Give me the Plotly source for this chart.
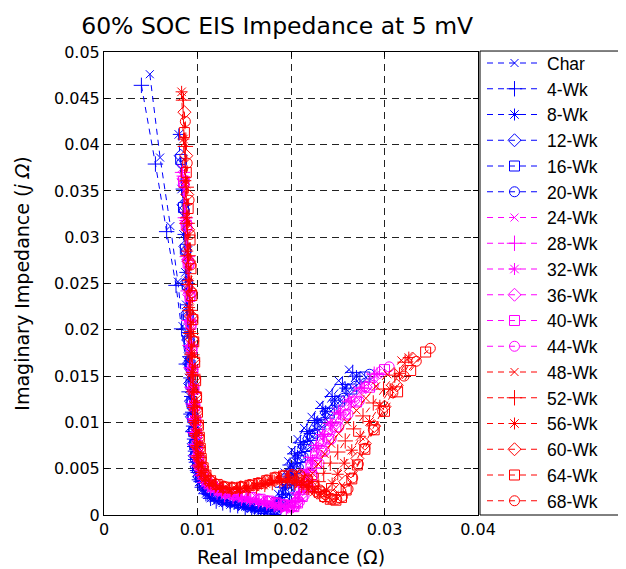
import plotly.graph_objects as go

# ---------------- data ----------------
SERIES_NAMES = ["Char", "4-Wk", "8-Wk", "12-Wk", "16-Wk", "20-Wk",
                "24-Wk", "28-Wk", "32-Wk", "36-Wk", "40-Wk", "44-Wk",
                "48-Wk", "52-Wk", "56-Wk", "60-Wk", "64-Wk", "68-Wk"]

X_CHAR = [0.0049,0.0060,0.0071,0.0079,0.0084,0.0089,0.0091,0.0093,0.0095,0.0096,0.0098,0.0100,0.0102,0.0105,0.0109,0.0114,0.0120,0.0127,0.0135,0.0143,0.0151,0.0158,0.0165,0.0171,0.0177,0.0182,0.0186,0.0190,0.0193,0.0197,0.0201,0.0207,0.0214,0.0222,0.0231,0.0241,0.0251,0.0262]
Y_CHAR = [0.0476,0.0386,0.0312,0.0252,0.0204,0.0166,0.0136,0.0112,0.0092,0.0075,0.0061,0.0049,0.0039,0.0030,0.0023,0.0018,0.0015,0.0013,0.0011,0.0010,0.0009,0.0007,0.0006,0.0005,0.0008,0.0014,0.0023,0.0034,0.0046,0.0058,0.0070,0.0082,0.0094,0.0106,0.0119,0.0132,0.0145,0.0157]

X_04 = [0.0040,0.0055,0.0067,0.0077,0.0083,0.0088,0.0091,0.0093,0.0095,0.0097,0.0098,0.0100,0.0102,0.0105,0.0109,0.0114,0.0120,0.0127,0.0135,0.0143,0.0151,0.0158,0.0165,0.0172,0.0178,0.0183,0.0187,0.0191,0.0195,0.0199,0.0204,0.0210,0.0217,0.0225,0.0234,0.0244,0.0255,0.0266]
Y_04 = [0.0464,0.0379,0.0306,0.0248,0.0201,0.0163,0.0133,0.0109,0.0090,0.0074,0.0060,0.0048,0.0038,0.0030,0.0023,0.0018,0.0015,0.0013,0.0011,0.0010,0.0008,0.0007,0.0005,0.0004,0.0006,0.0011,0.0019,0.0030,0.0042,0.0054,0.0066,0.0078,0.0090,0.0102,0.0115,0.0128,0.0141,0.0154]

X_08 = [0.0080,0.0083,0.0085,0.0087,0.0088,0.0089,0.0090,0.0091,0.0092,0.0093,0.0094,0.0095,0.0096,0.0097,0.0099,0.0102,0.0106,0.0111,0.0118,0.0126,0.0135,0.0144,0.0153,0.0161,0.0168,0.0175,0.0181,0.0186,0.0190,0.0194,0.0198,0.0202,0.0207,0.0213,0.0220,0.0228,0.0237,0.0247,0.0258,0.0270]
Y_08 = [0.0411,0.0352,0.0303,0.0262,0.0227,0.0197,0.0171,0.0148,0.0128,0.0111,0.0096,0.0082,0.0069,0.0057,0.0046,0.0036,0.0028,0.0022,0.0018,0.0015,0.0013,0.0011,0.0009,0.0007,0.0005,0.0004,0.0006,0.0011,0.0019,0.0029,0.0040,0.0052,0.0064,0.0076,0.0088,0.0100,0.0112,0.0124,0.0137,0.0150]

X_12 = [0.0082,0.0085,0.0087,0.0088,0.0089,0.0090,0.0091,0.0092,0.0093,0.0094,0.0095,0.0096,0.0097,0.0099,0.0102,0.0106,0.0111,0.0118,0.0126,0.0135,0.0144,0.0153,0.0161,0.0169,0.0176,0.0182,0.0187,0.0191,0.0195,0.0199,0.0203,0.0208,0.0214,0.0221,0.0229,0.0238,0.0249,0.0261,0.0274]
Y_12 = [0.0388,0.0335,0.0290,0.0251,0.0218,0.0189,0.0164,0.0142,0.0123,0.0106,0.0091,0.0077,0.0064,0.0052,0.0041,0.0032,0.0025,0.0020,0.0016,0.0014,0.0012,0.0010,0.0008,0.0006,0.0005,0.0006,0.0010,0.0017,0.0027,0.0038,0.0050,0.0062,0.0074,0.0086,0.0098,0.0110,0.0122,0.0135,0.0148]

X_16 = [0.0082,0.0085,0.0087,0.0089,0.0090,0.0091,0.0092,0.0093,0.0094,0.0095,0.0096,0.0097,0.0098,0.0100,0.0103,0.0107,0.0112,0.0119,0.0127,0.0136,0.0145,0.0154,0.0162,0.0170,0.0177,0.0184,0.0189,0.0193,0.0197,0.0201,0.0205,0.0210,0.0216,0.0223,0.0231,0.0241,0.0252,0.0265,0.0279]
Y_16 = [0.0384,0.0332,0.0287,0.0249,0.0216,0.0187,0.0162,0.0141,0.0122,0.0105,0.0090,0.0076,0.0063,0.0051,0.0041,0.0032,0.0026,0.0021,0.0017,0.0015,0.0013,0.0011,0.0009,0.0007,0.0005,0.0006,0.0010,0.0017,0.0027,0.0038,0.0050,0.0062,0.0074,0.0086,0.0098,0.0110,0.0123,0.0136,0.0149]

X_20 = [0.0083,0.0086,0.0088,0.0089,0.0090,0.0091,0.0092,0.0093,0.0094,0.0095,0.0096,0.0097,0.0098,0.0100,0.0103,0.0107,0.0112,0.0119,0.0127,0.0136,0.0145,0.0154,0.0163,0.0171,0.0178,0.0185,0.0191,0.0195,0.0199,0.0203,0.0208,0.0213,0.0219,0.0226,0.0234,0.0244,0.0256,0.0269,0.0284]
Y_20 = [0.0380,0.0329,0.0285,0.0247,0.0214,0.0186,0.0161,0.0140,0.0121,0.0104,0.0089,0.0075,0.0063,0.0051,0.0041,0.0033,0.0026,0.0021,0.0018,0.0015,0.0013,0.0011,0.0009,0.0007,0.0006,0.0007,0.0011,0.0018,0.0028,0.0039,0.0051,0.0063,0.0075,0.0088,0.0100,0.0113,0.0126,0.0139,0.0152]

X_24 = [0.0083,0.0086,0.0088,0.0090,0.0091,0.0092,0.0093,0.0094,0.0095,0.0096,0.0097,0.0098,0.0099,0.0101,0.0104,0.0108,0.0114,0.0121,0.0129,0.0138,0.0147,0.0156,0.0165,0.0173,0.0181,0.0188,0.0194,
        0.0199,0.0204,0.0209,0.0214,0.0219,0.0225,0.0232,0.0240,0.0249,0.0259,0.0270,0.0285]
Y_24 = [0.0374,0.0324,0.0281,0.0244,0.0212,0.0184,0.0160,0.0139,0.0120,0.0104,0.0089,0.0076,0.0063,0.0052,0.0042,0.0034,0.0028,0.0024,0.0021,0.0019,0.0017,0.0015,0.0014,0.0012,0.0010,0.0008,0.0007,
        0.0011,0.0020,0.0033,0.0047,0.0061,0.0075,0.0088,0.0100,0.0112,0.0124,0.0136,0.0150]

X_28 = [0.0084,0.0087,0.0089,0.0090,0.0091,0.0092,0.0093,0.0094,0.0095,0.0096,0.0097,0.0098,0.0099,0.0101,0.0104,0.0108,0.0114,0.0121,0.0129,0.0138,0.0147,0.0156,0.0165,0.0174,0.0182,0.0189,0.0195,0.0200,0.0204,0.0208,0.0212,0.0216,0.0221,0.0227,0.0234,0.0242,0.0251,0.0262,0.0275,0.0289]
Y_28 = [0.0370,0.0321,0.0279,0.0242,0.0210,0.0183,0.0159,0.0138,0.0120,0.0104,0.0089,0.0076,0.0064,0.0053,0.0043,0.0035,0.0029,0.0025,0.0022,0.0020,0.0018,0.0017,0.0015,0.0013,0.0011,0.0009,0.0008,0.0009,0.0015,0.0024,0.0036,0.0049,0.0062,0.0075,0.0087,0.0099,0.0111,0.0123,0.0137,0.0152]

X_32 = [0.0084,0.0087,0.0089,0.0091,0.0092,0.0093,0.0094,0.0095,0.0096,0.0097,0.0098,0.0099,0.0100,0.0102,0.0105,0.0109,0.0115,0.0122,0.0130,0.0139,0.0148,0.0157,0.0166,0.0175,0.0183,0.0190,0.0196,0.0201,0.0205,0.0209,0.0213,0.0218,0.0223,0.0229,0.0236,0.0244,0.0253,0.0264,0.0277,0.0292]
Y_32 = [0.0366,0.0318,0.0276,0.0240,0.0209,0.0182,0.0158,0.0137,0.0119,0.0103,0.0088,0.0075,0.0063,0.0052,0.0043,0.0035,0.0030,0.0026,0.0023,0.0021,0.0019,0.0017,0.0015,0.0013,0.0011,0.0009,0.0008,0.0009,0.0014,0.0022,0.0033,0.0046,0.0059,0.0072,0.0085,0.0097,0.0109,0.0122,0.0137,0.0153]

X_36 = [0.0085,0.0088,0.0090,0.0091,0.0092,0.0093,0.0094,0.0095,0.0096,0.0097,0.0098,0.0099,0.0100,0.0102,0.0105,0.0109,0.0115,0.0122,0.0130,0.0139,0.0148,0.0157,0.0166,0.0175,0.0183,0.0191,0.0197,0.0202,0.0206,0.0210,0.0215,0.0220,0.0225,0.0231,0.0238,0.0246,0.0256,0.0267,0.0280,0.0295]
Y_36 = [0.0363,0.0315,0.0274,0.0238,0.0207,0.0180,0.0157,0.0136,0.0118,0.0102,0.0088,0.0075,0.0063,0.0052,0.0043,0.0036,0.0031,0.0027,0.0024,0.0022,0.0020,0.0018,0.0016,0.0014,0.0012,0.0010,0.0009,0.0009,0.0014,0.0021,0.0032,0.0045,0.0058,0.0071,0.0084,0.0097,0.0110,0.0123,0.0138,0.0154]

X_40 = [0.0085,0.0088,0.0090,0.0092,0.0093,0.0094,0.0095,0.0096,0.0097,0.0098,0.0099,0.0100,0.0101,0.0103,0.0106,0.0110,0.0116,0.0123,0.0131,0.0140,0.0149,0.0158,0.0167,0.0176,0.0184,0.0192,0.0198,0.0203,0.0207,0.0212,0.0217,0.0222,0.0227,0.0233,0.0240,0.0248,0.0258,0.0270,0.0284,0.0300]
Y_40 = [0.0360,0.0313,0.0272,0.0236,0.0206,0.0179,0.0156,0.0136,0.0118,0.0102,0.0088,0.0075,0.0063,0.0053,0.0044,0.0037,0.0031,0.0027,0.0024,0.0022,0.0020,0.0019,0.0017,0.0015,0.0013,0.0011,0.0010,0.0009,0.0013,0.0020,0.0030,0.0043,0.0056,0.0069,0.0082,0.0095,0.0108,0.0122,0.0138,0.0157]

X_44 = [0.0086,0.0089,0.0091,0.0092,0.0093,0.0094,0.0095,0.0096,0.0097,0.0098,0.0099,0.0100,0.0101,0.0103,0.0106,0.0110,0.0116,0.0123,0.0131,0.0140,0.0149,0.0158,0.0167,0.0176,0.0185,0.0193,0.0199,0.0205,0.0209,0.0214,0.0219,0.0224,0.0230,0.0236,0.0243,0.0251,0.0261,0.0273,0.0288,0.0305]
Y_44 = [0.0357,0.0310,0.0270,0.0235,0.0205,0.0178,0.0155,0.0135,0.0117,0.0101,0.0087,0.0075,0.0063,0.0053,0.0044,0.0037,0.0032,0.0028,0.0025,0.0023,0.0021,0.0019,0.0017,0.0015,0.0013,0.0011,0.0010,0.0010,0.0014,0.0021,0.0031,0.0043,0.0056,0.0069,0.0082,0.0095,0.0109,0.0123,0.0140,0.0160]

X_48 = [0.0084,0.0086,0.0088,0.0089,0.0090,0.0091,0.0092,0.0093,0.0094,0.0095,0.0096,0.0097,0.0098,0.0099,0.0100,0.0101,
        0.0103,0.0106,0.0111,0.0118,0.0126,0.0135,0.0144,0.0153,0.0162,0.0171,0.0179,0.0187,0.0195,0.0202,0.0208,0.0213,0.0218,0.0223,0.0229,0.0236,0.0243,0.0251,0.0260,0.0270,0.0280,0.0291,0.0303,0.0318]
Y_48 = [0.0452,0.0402,0.0357,0.0318,0.0283,0.0251,0.0223,0.0197,0.0174,0.0153,0.0134,0.0117,0.0101,0.0087,0.0074,0.0063,
        0.0053,0.0044,0.0037,0.0032,0.0028,0.0027,0.0027,0.0028,0.0030,0.0032,0.0034,0.0035,0.0035,0.0034,0.0033,0.0034,0.0038,0.0045,0.0055,0.0066,0.0077,0.0088,0.0100,0.0113,0.0126,0.0139,0.0152,0.0167]

X_52 = [0.0085,0.0087,0.0088,0.0089,0.0090,0.0091,0.0092,0.0093,0.0094,0.0095,0.0096,0.0097,0.0098,0.0099,0.0100,0.0101,
        0.0104,0.0107,0.0112,0.0119,0.0127,0.0136,0.0145,0.0154,0.0163,0.0172,0.0180,0.0188,0.0196,0.0204,0.0211,0.0217,0.0223,0.0229,0.0235,0.0242,0.0250,0.0258,0.0267,0.0277,0.0288,0.0299,0.0311,0.0322]
Y_52 = [0.0448,0.0398,0.0354,0.0315,0.0280,0.0249,0.0221,0.0196,0.0173,0.0152,0.0133,0.0116,0.0100,0.0086,0.0073,0.0062,
        0.0052,0.0043,0.0037,0.0032,0.0029,0.0028,0.0028,0.0029,0.0031,0.0033,0.0035,0.0037,0.0037,0.0035,0.0032,0.0030,0.0031,0.0036,0.0045,0.0056,0.0068,0.0080,0.0093,0.0107,0.0121,0.0136,0.0151,0.0165]

X_56 = [0.0083,0.0085,0.0087,0.0088,0.0089,0.0090,0.0091,0.0092,0.0093,0.0094,0.0095,0.0096,0.0097,0.0098,0.0099,0.0100,0.0101,
        0.0104,0.0108,0.0113,0.0120,0.0128,0.0137,0.0146,0.0155,0.0164,0.0173,0.0182,0.0190,0.0198,0.0206,0.0213,0.0219,0.0225,0.0232,0.0238,0.0244,0.0250,0.0257,0.0265,0.0274,0.0284,0.0295,0.0306,0.0316,0.0326]
Y_56 = [0.0457,0.0406,0.0361,0.0321,0.0285,0.0253,0.0224,0.0198,0.0175,0.0154,0.0135,0.0118,0.0102,0.0088,0.0075,0.0064,0.0054,
        0.0046,0.0039,0.0034,0.0031,0.0029,0.0028,0.0029,0.0030,0.0032,0.0034,0.0037,0.0039,0.0039,0.0037,0.0033,0.0028,0.0025,0.0024,0.0027,0.0034,0.0044,0.0056,0.0070,0.0085,0.0101,0.0118,0.0136,0.0153,0.0170]

X_60 = [0.0086,0.0088,0.0089,0.0090,0.0091,0.0092,0.0093,0.0094,0.0095,0.0096,0.0097,0.0098,0.0099,0.0100,0.0101,0.0102,
        0.0105,0.0108,0.0113,0.0120,0.0128,0.0137,0.0146,0.0155,0.0164,0.0173,0.0182,0.0191,0.0200,0.0208,0.0216,0.0222,0.0228,0.0234,0.0240,0.0246,0.0252,0.0258,0.0264,0.0271,0.0279,0.0289,0.0300,0.0313,0.0330]
Y_60 = [0.0435,0.0388,0.0346,0.0308,0.0274,0.0243,0.0215,0.0190,0.0168,0.0148,0.0130,0.0113,0.0098,0.0085,0.0073,0.0062,
        0.0052,0.0044,0.0038,0.0033,0.0030,0.0029,0.0030,0.0031,0.0033,0.0036,0.0039,0.0041,0.0041,0.0040,0.0036,0.0030,0.0024,0.0020,0.0019,0.0021,0.0027,0.0036,0.0047,0.0061,0.0077,0.0096,0.0117,0.0140,0.0169]

X_64 = [0.0086,0.0088,0.0090,0.0092,0.0093,0.0094,0.0095,0.0096,0.0097,0.0098,0.0099,0.0100,0.0101,0.0102,0.0103,0.0104,
        0.0106,0.0109,0.0114,0.0121,0.0129,0.0138,0.0147,0.0156,0.0165,0.0174,0.0183,0.0192,0.0201,0.0209,0.0217,0.0224,0.0230,0.0236,0.0242,0.0248,0.0254,
        0.0259,0.0265,0.0271,0.0279,0.0289,0.0300,0.0314,0.0328,0.0344]
Y_64 = [0.0413,0.0370,0.0331,0.0297,0.0266,0.0237,0.0211,0.0187,0.0165,0.0145,0.0127,0.0111,0.0097,0.0084,0.0072,0.0061,
        0.0051,0.0043,0.0037,0.0033,0.0030,0.0029,0.0030,0.0032,0.0034,0.0037,0.0040,0.0042,0.0042,0.0041,0.0037,0.0031,0.0025,0.0020,0.0017,0.0016,0.0019,
        0.0027,0.0039,0.0054,0.0071,0.0092,0.0112,0.0133,0.0156,0.0176]

X_68 = [0.0087,0.0089,0.0091,0.0092,0.0093,0.0094,0.0095,0.0096,0.0097,0.0098,0.0099,0.0100,0.0101,0.0102,0.0103,0.0104,
        0.0106,0.0109,0.0114,0.0121,0.0129,0.0138,0.0147,0.0156,0.0165,0.0174,0.0183,0.0192,0.0201,0.0210,0.0218,0.0225,0.0231,0.0237,0.0243,0.0249,0.0255,
        0.0261,0.0266,0.0272,0.0279,0.0288,0.0298,0.0309,0.0321,0.0334,0.0349]
Y_68 = [0.0425,0.0380,0.0340,0.0303,0.0270,0.0240,0.0213,0.0188,0.0166,0.0146,0.0128,0.0112,0.0097,0.0084,0.0072,0.0061,
        0.0051,0.0043,0.0037,0.0033,0.0031,0.0030,0.0031,0.0033,0.0035,0.0038,0.0041,0.0043,0.0044,0.0043,0.0039,0.0033,0.0027,0.0022,0.0018,0.0017,0.0020,
        0.0028,0.0040,0.0055,0.0072,0.0092,0.0112,0.0132,0.0150,0.0166,0.0180]

X_TICKS = [0, 0.01, 0.02, 0.03, 0.04]
X_TICK_LABELS = ["0", "0.01", "0.02", "0.03", "0.04"]
Y_TICKS = [0, 0.005, 0.01, 0.015, 0.02, 0.025, 0.03, 0.035, 0.04, 0.045, 0.05]
Y_TICK_LABELS = ["0", "0.005", "0.01", "0.015", "0.02", "0.025", "0.03", "0.035", "0.04", "0.045", "0.05"]

ALL_X = [X_CHAR, X_04, X_08, X_12, X_16, X_20, X_24, X_28, X_32, X_36, X_40, X_44,
         X_48, X_52, X_56, X_60, X_64, X_68]
ALL_Y = [Y_CHAR, Y_04, Y_08, Y_12, Y_16, Y_20, Y_24, Y_28, Y_32, Y_36, Y_40, Y_44,
         Y_48, Y_52, Y_56, Y_60, Y_64, Y_68]

# ---------------- styles ----------------
GROUP_COLORS = ["#0000FF", "#FF00FF", "#FF0000"]
SYMBOLS = ["x-thin-open", "cross-thin-open", "asterisk-open",
           "diamond-open", "square-open", "circle-open"]
SIZES = [8, 11, 10, 10, 10, 10]

FONT_WIDE = "DejaVu Sans, Verdana, sans-serif"
FONT_LEG = "Liberation Sans, Arial, Helvetica, sans-serif"

fig = go.Figure()
for i, (name, xs, ys) in enumerate(zip(SERIES_NAMES, ALL_X, ALL_Y)):
    color = GROUP_COLORS[i // 6]
    fig.add_trace(go.Scatter(
        x=xs, y=ys, name=name, mode="lines+markers",
        line=dict(color=color, width=1, dash="6px,5px"),
        marker=dict(symbol=SYMBOLS[i % 6], size=SIZES[i % 6], color=color,
                    line=dict(color=color, width=1)),
    ))

L, R, T, B = 96, 156, 44, 53
W, H = 626, 569
pw, ph = W - L - R, H - T - B

def px_x(p):
    return (p - L) / pw

def px_y(p):
    return (H - B - p) / ph

axis_common = dict(
    showline=True, linecolor="black", linewidth=1, mirror="allticks",
    ticks="inside", ticklen=5, tickcolor="black", tickwidth=1,
    showgrid=True, gridcolor="#222222", gridwidth=1, griddash="7px,5px",
    zeroline=False, tickfont=dict(family=FONT_WIDE, size=16, color="black"),
)

fig.update_layout(
    width=W, height=H,
    margin=dict(l=L, r=R, t=T, b=B),
    paper_bgcolor="white", plot_bgcolor="white",
    font=dict(family=FONT_WIDE, color="black"),
    title=dict(text="60% SOC EIS Impedance at 5 mV", x=0.43, xanchor="center",
               y=1 - 18 / H, yanchor="middle",
               font=dict(family=FONT_WIDE, size=23.5, color="black")),
    xaxis=dict(range=[0, 0.04], tickvals=X_TICKS, ticktext=X_TICK_LABELS,
               title=dict(text="Real Impedance (Ω)", standoff=12,
                          font=dict(family=FONT_WIDE, size=19, color="black")),
               **axis_common),
    yaxis=dict(range=[0, 0.05], tickvals=Y_TICKS, ticktext=Y_TICK_LABELS,
               title=dict(text="Imaginary Impedance (<i>j Ω</i>)", standoff=19,
                          font=dict(family=FONT_WIDE, size=19, color="black")),
               **axis_common),
    legend=dict(x=px_x(474), xanchor="left", y=px_y(37), yanchor="top",
                bgcolor="rgba(255,255,255,0)", borderwidth=0,
                font=dict(family=FONT_LEG, size=17.5, color="black"),
                itemwidth=55, maxheight=540, itemclick=False),
    shapes=[dict(type="rect", xref="paper", yref="paper",
                 x0=px_x(472), x1=px_x(617), y0=px_y(516), y1=px_y(43),
                 line=dict(color="black", width=1), fillcolor="rgba(0,0,0,0)",
                 layer="above")],
    showlegend=True,
)

fig.write_html("out.html")
